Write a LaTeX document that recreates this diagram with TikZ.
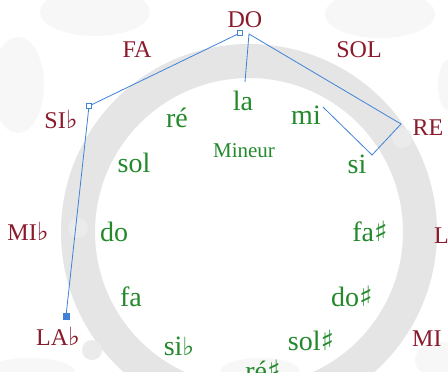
\documentclass[tikz,border=0pt]{standalone}
\usepackage{fontspec}
\setmainfont{Liberation Serif}
\newfontfamily\symfont{DejaVu Sans}
\definecolor{majred}{HTML}{8A1A2C}
\definecolor{mingreen}{HTML}{23892B}
\definecolor{ringgray}{HTML}{E5E5E5}
\definecolor{cloudgray}{HTML}{F7F7F7}
\definecolor{lineblue}{HTML}{3F82D8}
\newcommand{\flt}{{\symfont\fontsize{25}{25}\selectfont ♭}}
\newcommand{\shp}{{\symfont\bfseries\fontsize{28}{28}\selectfont ♯}}
\tikzset{
  major/.style={anchor=base, inner sep=0pt, text=majred, font=\fontsize{24}{24}\selectfont},
  minor/.style={anchor=base, inner sep=0pt, text=mingreen, font=\fontsize{28}{28}\selectfont},
  label/.style={anchor=base, inner sep=0pt, text=mingreen, font=\fontsize{21}{21}\selectfont},
  path/.style={draw=lineblue, line width=0.8pt},
  opensq/.style={draw=lineblue, fill=white, line width=0.7pt, minimum size=4.5pt, inner sep=0pt, rectangle},
  fullsq/.style={draw=lineblue, fill=lineblue, minimum size=5.5pt, inner sep=0pt, rectangle},
  cloud/.style={fill=cloudgray}
}
\begin{document}
\begin{tikzpicture}[x=1pt,y=-1pt]
\useasboundingbox (0,0) rectangle (448,376);
\fill[white] (0,0) rectangle (448,376);
\begin{scope}
\clip (0,0) rectangle (448,371);
% faint background clouds
\fill[cloud] (95,12) ellipse (55 and 24);
\fill[cloud] (18,85) ellipse (26 and 48);
\fill[cloud] (380,14) ellipse (55 and 24);
\fill[cloud] (448,85) ellipse (10 and 25);
\fill[cloud] (30,372) ellipse (45 and 14);
\fill[cloud] (260,372) ellipse (40 and 14);
\fill[cloud] (440,360) ellipse (25 and 18);
% ring
\fill[ringgray, even odd rule] (249,232) circle (188) (249,232) circle (154);
\fill[black!8] (78,228) circle (10);
\fill[black!8] (92,350) circle (10);
\fill[black!8] (402,138) circle (10);
\end{scope}

% major keys
\node[major] (DO)  at (245,27)  {DO};
\node[major] (FA)  at (137,57)  {FA};
\node[major] (SOL) at (359,57)  {SOL};
\node[major] (SIb) at (61,128)  {SI\flt};
\node[major] (RE)  at (428,135) {RE};
\node[major] (MIb) at (28,240)  {MI\flt};
\node[major, anchor=base west] (LA) at (434,243) {L};
\node[major] (LAb) at (58,345)  {LA\flt};
\node[major, anchor=base west] (MI) at (412,346) {MI};

% minor keys
\node[minor] (la)   at (243,110) {la};
\node[minor] (re)   at (177,127) {ré};
\node[minor] (mi)   at (306,124) {mi};
\node[label] (Min)  at (244,157) {Mineur};
\node[minor] (sol)  at (134,172) {sol};
\node[minor] (si)   at (357,173) {si};
\node[minor] (do)   at (114,241) {do};
\node[minor] (fas)  at (370,241) {fa\shp};
\node[minor] (fa)   at (131,306) {fa};
\node[minor] (dos)  at (352,306) {do\shp};
\node[minor] (sib)  at (179,355) {si\flt};
\node[minor] (sols) at (311,350) {sol\shp};
\begin{scope}
\clip (0,0) rectangle (448,372);
\node[minor] (res)  at (263,380) {ré\shp};
\end{scope}

% blue path
\coordinate (p1) at (66,316);
\coordinate (p2) at (89,106);
\coordinate (p3) at (240,33);
\coordinate (q0) at (249,34);
\coordinate (q1) at (245,82);
\coordinate (q2) at (401,124);
\coordinate (q3) at (372,155);
\coordinate (q4) at (323,107);
\draw[path] (p1) -- (p2) -- (p3);
\draw[path] (q1) -- (q0) -- (q2) -- (q3) -- (q4);
\node[opensq] (s2) at (p2) {};
\node[opensq] (s3) at (p3) {};
\node[fullsq] (s1) at (p1) {};
\end{tikzpicture}
\end{document}
